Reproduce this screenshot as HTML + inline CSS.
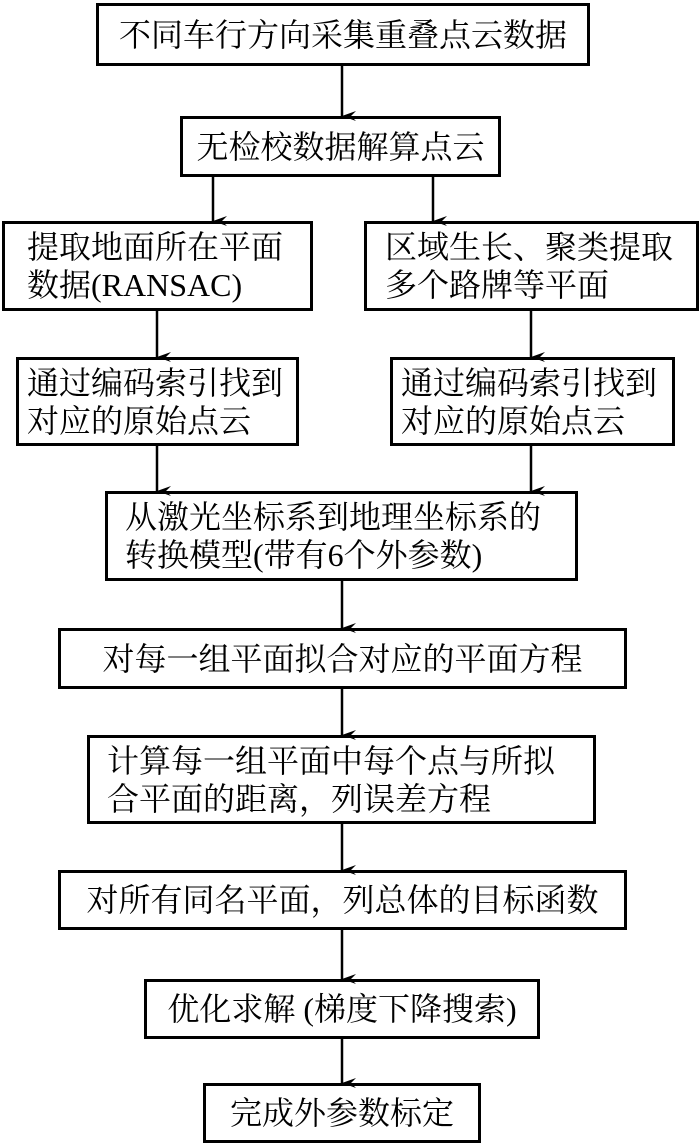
<!DOCTYPE html>
<html><head><meta charset="utf-8"><style>
body{margin:0;width:700px;height:1145px;background:#fff;position:relative;overflow:hidden;font-family:"Liberation Serif","Noto Serif CJK SC",serif;color:#000}
.b{position:absolute;box-sizing:border-box;border:3px solid #000;font-size:32px;line-height:38px;display:flex;align-items:center;justify-content:center;white-space:nowrap}
.l{justify-content:flex-start;padding-left:18px}
svg{position:absolute;left:0;top:0}
</style></head><body>
<svg width="700" height="1145">
<defs><marker id="a" markerWidth="10" markerHeight="14" refX="5" refY="14" orient="auto" markerUnits="userSpaceOnUse"><path d="M0,0 L5,14 L10,0 L5,5 Z" fill="#000"/></marker></defs>
<g stroke="#000" stroke-width="2.5" fill="none">
<line x1="342" y1="66" x2="342" y2="116" marker-end="url(#a)"/>
<line x1="213" y1="177" x2="213" y2="221" marker-end="url(#a)"/>
<line x1="433" y1="177" x2="433" y2="221" marker-end="url(#a)"/>
<line x1="157" y1="311" x2="157" y2="357" marker-end="url(#a)"/>
<line x1="531" y1="311" x2="531" y2="357" marker-end="url(#a)"/>
<line x1="157" y1="446" x2="157" y2="491" marker-end="url(#a)"/>
<line x1="531" y1="446" x2="531" y2="491" marker-end="url(#a)"/>
<line x1="342" y1="581" x2="342" y2="628" marker-end="url(#a)"/>
<line x1="342" y1="689" x2="342" y2="735" marker-end="url(#a)"/>
<line x1="342" y1="824" x2="342" y2="870" marker-end="url(#a)"/>
<line x1="342" y1="930" x2="342" y2="979" marker-end="url(#a)"/>
<line x1="342" y1="1039" x2="342" y2="1083" marker-end="url(#a)"/>
</g></svg>
<div class="b" style="left:96px;top:3px;width:494px;height:63px">不同车行方向采集重叠点云数据</div>
<div class="b" style="left:180px;top:116px;width:321px;height:61px">无检校数据解算点云</div>
<div class="b l" style="left:2px;top:221px;width:311px;height:90px;padding-left:22px">提取地面所在平面<br>数据(RANSAC)</div>
<div class="b l" style="left:364px;top:221px;width:335px;height:90px;padding-left:18px">区域生长、聚类提取<br>多个路牌等平面</div>
<div class="b l" style="left:16px;top:357px;width:283px;height:89px;padding-left:8px">通过编码索引找到<br>对应的原始点云</div>
<div class="b l" style="left:390px;top:357px;width:285px;height:89px;padding-left:8px">通过编码索引找到<br>对应的原始点云</div>
<div class="b l" style="left:105px;top:491px;width:473px;height:90px;padding-left:17px">从激光坐标系到地理坐标系的<br>转换模型(带有6个外参数)</div>
<div class="b" style="left:58px;top:628px;width:569px;height:61px">对每一组平面拟合对应的平面方程</div>
<div class="b l" style="left:87px;top:735px;width:509px;height:89px;padding-left:17px">计算每一组平面中每个点与所拟<br>合平面的距离，列误差方程</div>
<div class="b" style="left:58px;top:870px;width:569px;height:60px">对所有同名平面，列总体的目标函数</div>
<div class="b" style="left:144px;top:979px;width:396px;height:60px">优化求解 (梯度下降搜索)</div>
<div class="b" style="left:203px;top:1083px;width:278px;height:60px">完成外参数标定</div>
</body></html>
